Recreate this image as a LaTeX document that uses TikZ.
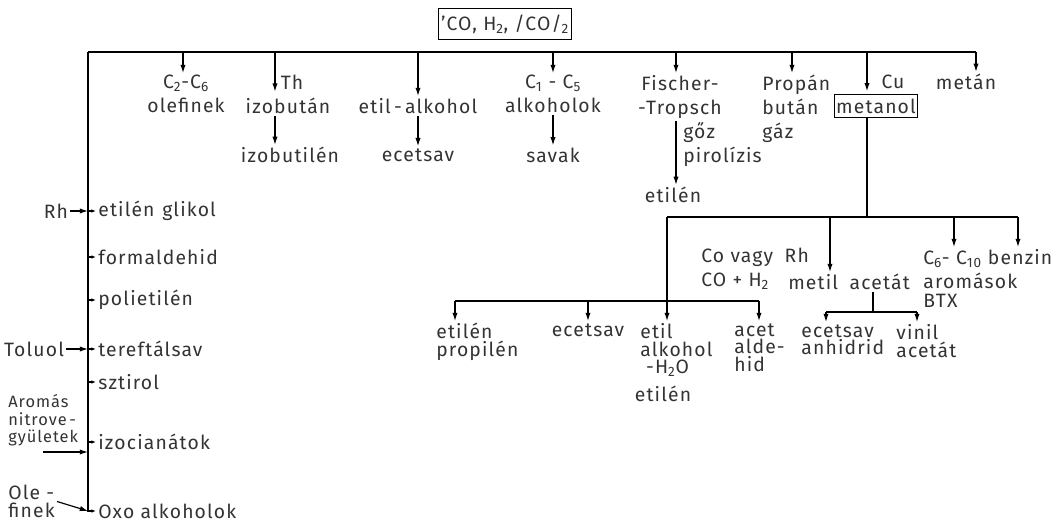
\documentclass[tikz,border=0pt]{standalone}
\usepackage{fontspec}
\setmainfont{Fira Sans}[LetterSpace=6]
\usetikzlibrary{arrows.meta}
\newcommand{\lowidx}[1]{\textsubscript{#1}}
\tikzstyle{prodstyle}=[inner sep=1.5pt, align=center, text=black!80,
font=\fontsize{16.5}{20.5}\selectfont]
\tikzstyle{leftstyle}=[prodstyle, align=left]
\tikzstyle{tightstyle}=[prodstyle, align=left, font=\fontsize{16.5}{15}\selectfont]
\tikzstyle{boxstyle}=[prodstyle, rectangle, draw=black, line width=0.9pt]
\tikzstyle{flow}=[-{Latex[length=7pt,width=4.5pt]}, line width=1pt]
\tikzstyle{tick}=[-{Latex[length=4pt,width=3pt]}, line width=1pt]

\begin{document}
\begin{tikzpicture}[x=0.03cm, y=-0.03cm, line width=1pt]
\useasboundingbox (0,0) rectangle (1051,522);

% Synthesis gas and main bar
\node[boxstyle, minimum width=4cm, minimum height=0.95cm] (syngas) at (505,24) {'CO, H\lowidx{2}, /CO/\lowidx{2}};
\coordinate (barL) at (88,52);
\coordinate (dC2) at (183,52);
\coordinate (dTh) at (275,52);
\coordinate (dEt) at (418,52);
\coordinate (dC1) at (553,52);
\coordinate (dFT) at (676,52);
\coordinate (dPr) at (792,52);
\coordinate (dCu) at (867,52);
\coordinate (dMe) at (976,52);
\draw (barL) -- (dMe);

% Top row
\node[prodstyle, anchor=north] (olefin) at (186,73) {C\lowidx{2}-C\lowidx{6}\\olefinek};
\draw[flow] (dC2) -- (dC2 |- olefin.north);

\node[prodstyle] (th) at (292,82) {Th};
\node[prodstyle] (izobutan) at (288,106) {izobután};
\node[prodstyle] (izobutilen) at (290,155) {izobutilén};
\draw[flow] (dTh) -- (dTh |- th.south);
\draw[flow] (izobutan.south -| dTh) -- (izobutilen.north -| dTh);

\node[prodstyle] (etoh) at (418,106) {etil\,-\,alkohol};
\node[prodstyle] (ecetsavA) at (418,155) {ecetsav};
\draw[flow] (dEt) -- (etoh);
\draw[flow] (etoh) -- (ecetsavA);

\node[prodstyle, anchor=north] (alkoholok) at (553,73) {C\lowidx{1} - C\lowidx{5}\\alkoholok};
\node[prodstyle] (savak) at (553,155) {savak};
\draw[flow] (dC1) -- (dC1 |- alkoholok.north);
\draw[flow] (alkoholok.south -| dC1) -- (savak.north -| dC1);

\node[prodstyle, anchor=north] (fischer) at (680,73) {Fischer-\\-Tropsch};
\node[prodstyle] (etilenA) at (673,195) {etilén};
\node[leftstyle, anchor=west] (goz) at (681,145) {gőz\\pirolízis};
\draw[flow] (dFT) -- (dFT |- fischer.north);
\draw[flow] (fischer.south -| dFT) -- (etilenA.north -| dFT);

\node[leftstyle, anchor=north west] (propan) at (760,73) {Propán\\bután\\gáz};
\draw[flow] (dPr) -- (dPr |- propan.north);

\node[prodstyle] (cu) at (893,82) {Cu};
\node[boxstyle, minimum width=2.2cm, minimum height=0.68cm] (metanol) at (876,106) {metanol};
\draw[flow] (dCu) -- (dCu |- cu.south);

\node[prodstyle] (metan) at (966,82) {metán};
\draw[flow] (dMe) -- (dMe |- metan.north);

% Methanol branches
\coordinate (mHub) at (867,217);
\coordinate (mL) at (667,217);
\coordinate (mAc) at (830,217);
\coordinate (mC6) at (954,217);
\coordinate (mR) at (1018,217);
\draw (metanol.south -| dCu) -- (mHub);
\draw (mL) -- (mR);

\node[leftstyle, anchor=north west] (covagy) at (699,246) {Co vagy\hspace{0.6em}Rh\\CO + H\lowidx{2}};
\node[prodstyle, anchor=north] (metilac) at (849,272) {metil\hspace{0.6em}acetát};
\node[leftstyle, anchor=north west] (benzin) at (921,247) {C\lowidx{6}- C\lowidx{10} benzin\\aromások\\[-4pt]BTX};
\draw[flow] (mAc) -- (mAc |- metilac.north);
\draw[flow] (mC6) -- (mC6 |- benzin.north);
\draw[flow] (mR) -- (mR |- benzin.north);

% Methyl acetate split
\coordinate (aHub) at (873,312);
\coordinate (aL) at (826,312);
\coordinate (aR) at (917,312);
\draw (metilac.south -| aHub) -- (aHub);
\draw (aL) -- (aR);
\node[tightstyle, anchor=north west] (anhidrid) at (799,322) {ecetsav\\anhidrid};
\node[tightstyle, anchor=north west] (vinil) at (894,322) {vinil\\acetát};
\draw[flow] (aL) -- (aL |- anhidrid.north);
\draw[flow] (aR) -- (aR |- vinil.north);

% Co or Rh with CO + H2
\coordinate (lL) at (455,301);
\coordinate (lEc) at (588,301);
\coordinate (lR) at (759,301);
\draw (lL) -- (lR);
\node[tightstyle, anchor=north west] (etprop) at (434,321) {etilén\\propilén};
\node[prodstyle, anchor=north] (ecetsavB) at (588,321) {ecetsav};
\node[tightstyle, anchor=north west] (etilalk) at (638,321) {etil\\alkohol\\\hspace{0.3em}-H\lowidx{2}O};
\node[prodstyle] (etilenB) at (663,394) {etilén};
\node[tightstyle, anchor=north west] (aldehid) at (732,321) {acet\\alde-\\hid};
\draw[flow] (lL) -- (lL |- etprop.north);
\draw[flow] (lEc) -- (ecetsavB);
\draw[flow] (mL) -- (mL |- etilalk.north);
\draw[flow] (lR) -- (lR |- aldehid.north);

% Left column
\node[leftstyle, anchor=west] (glikol) at (96,211) {etilén\hspace{0.4em}glikol};
\node[leftstyle, anchor=west] (formald) at (96,257) {formaldehid};
\node[leftstyle, anchor=west] (polietilen) at (96,300) {polietilén};
\node[leftstyle, anchor=west] (tereft) at (96,349) {tereftálsav};
\node[leftstyle, anchor=west] (sztirol) at (96,382) {sztirol};
\node[leftstyle, anchor=west] (izocian) at (96,442) {izocianátok};
\node[leftstyle, anchor=west] (oxo) at (96,511) {Oxo alkoholok};
\draw[tick] (barL) |- (oxo.west);
\draw[tick] (glikol.west -| barL) -- (glikol.west);
\draw[tick] (formald.west -| barL) -- (formald.west);
\draw[tick] (polietilen.west -| barL) -- (polietilen.west);
\draw[tick] (tereft.west -| barL) -- (tereft.west);
\draw[tick] (sztirol.west -| barL) -- (sztirol.west);
\draw[tick] (izocian.west -| barL) -- (izocian.west);

% Feeds from the left
\node[prodstyle] (rh) at (56,211) {Rh};
\node[prodstyle] (toluol) at (34,349) {Toluol};
\node[tightstyle, anchor=north west, font=\fontsize{14}{15}\selectfont] (aromas) at (6,392) {Aromás\\nitrove\,-\\gyületek};
\node[tightstyle, anchor=north west] (olefinB) at (6,483) {Ole -\\finek};
\draw[flow] (rh) -- (glikol.west -| barL);
\draw[flow] (toluol) -- (tereft.west -| barL);
\draw[flow] ([yshift=-3pt]aromas.south) -- ([yshift=-3pt]aromas.south -| barL);
\draw[flow] (olefinB.east) -- (oxo.west -| barL);
\end{tikzpicture}
\end{document}
